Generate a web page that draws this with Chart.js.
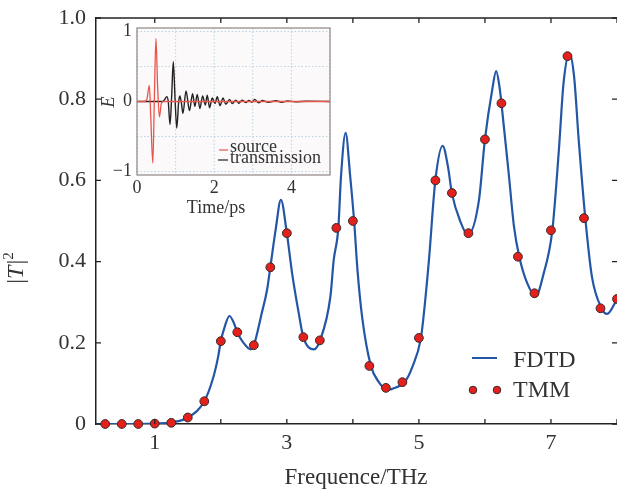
<!doctype html>
<html>
<head>
  <meta charset="utf-8" />
  <title>FDTD / TMM transmission</title>
  <script src="https://cdn.jsdelivr.net/npm/chart.js"></script>
  <style>
    html, body { margin: 0; padding: 0; background: #fff; overflow: hidden; }
    #wrap { position: relative; width: 617px; height: 489px; }
    #main { position: absolute; left: 0; top: 0; }
    #inset { position: absolute; left: 95px; top: 18px; }
  </style>
</head>
<body>
  <div id="wrap">
    <canvas id="main" width="617" height="489"></canvas>
    <canvas id="inset" width="245" height="200"></canvas>
  </div>

  <script>
    const serif = '"Liberation Serif", "Times New Roman", serif';

    // main plot: |T|^2 vs frequency (THz)
    const fdtdFreq = [0.11, 0.5, 0.75, 1.0, 1.25, 1.5, 1.75, 1.89, 1.96, 2.0, 2.06, 2.13, 2.19, 2.25, 2.33, 2.45, 2.5,
      2.62, 2.7, 2.75, 2.83, 2.91, 3.0, 3.08, 3.18, 3.25, 3.41, 3.5, 3.66, 3.71, 3.78, 3.82, 3.89, 3.96, 4.02, 4.07,
      4.14, 4.27, 4.39, 4.53, 4.65, 4.78, 4.9, 5.03, 5.07, 5.15, 5.25, 5.36, 5.44, 5.5, 5.63, 5.74, 5.91, 6.0, 6.11,
      6.17, 6.22, 6.25, 6.36, 6.44, 6.52, 6.64, 6.77, 6.89, 7.02, 7.12, 7.19, 7.28, 7.35, 7.42, 7.52, 7.62, 7.77, 7.85, 8.0];
    const fdtdT = [0, 0, 0, 0.001, 0.004, 0.016, 0.056, 0.117, 0.166, 0.204, 0.24, 0.266, 0.252, 0.226, 0.203, 0.184, 0.194,
      0.273, 0.33, 0.386, 0.478, 0.552, 0.47, 0.371, 0.273, 0.214, 0.184, 0.205, 0.314, 0.404, 0.483, 0.609, 0.717, 0.609, 0.498, 0.379,
      0.264, 0.145, 0.104, 0.084, 0.09, 0.102, 0.14, 0.211, 0.264, 0.4, 0.601, 0.685, 0.634, 0.568, 0.498, 0.466, 0.552, 0.701, 0.823,
      0.869, 0.831, 0.79, 0.617, 0.486, 0.412, 0.347, 0.315, 0.371, 0.476, 0.675, 0.839, 0.913, 0.856, 0.7, 0.507, 0.363, 0.284, 0.271, 0.307];

    const tmmFreq = [0.25, 0.5, 0.75, 1.0, 1.25, 1.5, 1.75, 2.0, 2.25, 2.5, 2.75, 3.0, 3.25, 3.5, 3.75, 4.0,
      4.25, 4.5, 4.75, 5.0, 5.25, 5.5, 5.75, 6.0, 6.25, 6.5, 6.75, 7.0, 7.25, 7.5, 7.75, 8.0];
    const tmmT = [0, 0, 0, 0.001, 0.003, 0.016, 0.056, 0.204, 0.226, 0.194, 0.386, 0.47, 0.214, 0.206, 0.483, 0.5,
      0.143, 0.089, 0.103, 0.212, 0.6, 0.569, 0.47, 0.701, 0.79, 0.412, 0.322, 0.477, 0.906, 0.507, 0.285, 0.308];

    const xTickVals = [1, 2, 3, 4, 5, 6, 7, 8];
    const xTickText = ['1', '', '3', '', '5', '', '7', ''];
    const yTickVals = [0, 0.2, 0.4, 0.6, 0.8, 1.0];
    const yTickText = ['0', '0.2', '0.4', '0.6', '0.8', '1.0'];

    // inset: E field vs time (ps)
    const srcTime = [0, 0.2, 0.25, 0.32, 0.355, 0.41, 0.45, 0.49, 0.535, 0.58, 0.63, 0.68, 5];
    const srcE = [0, 0, 0.02, 0.23, -0.2, -0.88, 0.05, 0.9, 0.2, -0.22, -0.03, 0, 0];

    const trTime = [0, 0.66, 0.72, 0.77, 0.81, 0.855, 0.9, 0.94, 0.985, 1.03, 1.08, 1.11, 1.15, 1.19, 1.27, 1.36, 1.44,
      1.5, 1.56, 1.63, 1.7, 1.77, 1.82, 1.88, 1.95, 2.02, 2.08, 2.15, 2.23, 2.3, 2.4, 2.47, 2.56, 2.64, 2.72, 2.82,
      2.9, 2.97, 3.05, 3.15, 3.25, 3.4, 3.6, 3.75, 3.9, 4.1, 4.4, 5];
    const trE = [0, 0, 0.03, 0.07, 0.0, -0.33, 0.1, 0.57, 0.05, -0.38, 0.0, 0.08, -0.02, -0.17, 0.15, -0.13, 0.11,
      -0.07, 0.1, -0.1, 0.08, -0.05, 0.09, -0.09, 0.05, -0.03, 0.07, -0.06, 0.05, -0.04, 0.03, -0.03, 0.02, -0.025, 0.02, -0.015,
      0.015, -0.01, 0.03, -0.02, 0.015, -0.01, 0.01, -0.01, 0.008, -0.005, 0.004, 0];

    const inXVals = [0, 1, 2, 3, 4, 5];
    const inXText = ['0', '', '2', '', '4', ''];
    const inYVals = [-1, -0.5, 0, 0.5, 1];
    const inYText = ['\u22121', '', '0', '', '1'];

    const pts = (xs, ys) => xs.map((x, i) => ({ x, y: ys[i] }));

    const mainDeco = {
      id: 'mainDeco',
      afterDraw(chart) {
        const { ctx, chartArea: a, scales: { x, y } } = chart;
        ctx.save();
        ctx.strokeStyle = '#222';
        ctx.lineWidth = 1.5;
        ctx.beginPath();
        ctx.moveTo(a.left, a.top); ctx.lineTo(a.right, a.top);
        ctx.stroke();
        ctx.lineWidth = 1.3;
        ctx.beginPath();
        x.ticks.forEach(t => {
          const px = x.getPixelForValue(t.value);
          ctx.moveTo(px, a.bottom); ctx.lineTo(px, a.bottom - 5);
          ctx.moveTo(px, a.top); ctx.lineTo(px, a.top + 5);
        });
        y.ticks.forEach(t => {
          const py = y.getPixelForValue(t.value);
          ctx.moveTo(a.left, py); ctx.lineTo(a.left + 5, py);
          ctx.moveTo(a.right, py); ctx.lineTo(a.right - 5, py);
        });
        ctx.stroke();

        // axis titles
        ctx.fillStyle = '#333';
        ctx.font = '23px ' + serif;
        ctx.textAlign = 'center';
        ctx.textBaseline = 'middle';
        ctx.fillText('Frequence/THz', 356, 478);

        ctx.translate(17, 268);
        ctx.rotate(-Math.PI / 2);
        const fN = '24px ' + serif, fI = 'italic 24px ' + serif, fS = '15px ' + serif;
        ctx.font = fN; const wBar = ctx.measureText('|').width;
        ctx.font = fI; const wT = ctx.measureText('T').width;
        ctx.font = fS; const w2 = ctx.measureText('2').width;
        let cx = -(wBar * 2 + wT + w2 + 1) / 2;
        ctx.textAlign = 'left';
        ctx.font = fN; ctx.fillText('|', cx, 0); cx += wBar;
        ctx.font = fI; ctx.fillText('T', cx, 0); cx += wT + 1;
        ctx.font = fN; ctx.fillText('|', cx, 0); cx += wBar;
        ctx.font = fS; ctx.fillText('2', cx, -8);
        ctx.restore();

        // legend
        ctx.save();
        ctx.strokeStyle = '#2456a6';
        ctx.lineWidth = 2;
        ctx.beginPath(); ctx.moveTo(472, 358); ctx.lineTo(497, 358); ctx.stroke();
        ctx.fillStyle = '#e3201b';
        ctx.strokeStyle = '#3a2a2a';
        ctx.lineWidth = 1;
        [473, 497].forEach(px => {
          ctx.beginPath(); ctx.arc(px, 390, 3.8, 0, Math.PI * 2); ctx.fill(); ctx.stroke();
        });
        ctx.fillStyle = '#333';
        ctx.font = '24px ' + serif;
        ctx.textAlign = 'left';
        ctx.textBaseline = 'middle';
        ctx.fillText('FDTD', 513, 361);
        ctx.fillText('TMM', 513, 391);
        ctx.restore();
      }
    };

    new Chart(document.getElementById('main'), {
      type: 'line',
      data: {
        datasets: [
          {
            label: 'TMM', data: pts(tmmFreq, tmmT), showLine: false, order: 0, clip: false,
            pointRadius: 4.4, pointBackgroundColor: '#e3201b', pointBorderColor: '#3a2a2a', pointBorderWidth: 1
          },
          {
            label: 'FDTD', data: pts(fdtdFreq, fdtdT), order: 1, borderColor: '#2456a6', borderWidth: 2.2,
            pointRadius: 0, cubicInterpolationMode: 'monotone', fill: false
          }
        ]
      },
      options: {
        responsive: false,
        animation: false,
        layout: { autoPadding: false, padding: { top: 18, right: 0, left: 0, bottom: 0 } },
        plugins: { legend: { display: false }, tooltip: { enabled: false } },
        scales: {
          x: {
            type: 'linear', min: 0.11, max: 8.0,
            afterBuildTicks: s => { s.ticks = xTickVals.map(v => ({ value: v })); },
            afterFit: s => { s.height = 65; s.paddingLeft = 0; s.paddingRight = 0; },
            grid: { display: false, drawTicks: false },
            border: { display: true, color: '#222', width: 1.5 },
            ticks: { callback: (v, i) => xTickText[i], font: { family: serif, size: 22 }, color: '#333', padding: 6, maxRotation: 0, autoSkip: false }
          },
          y: {
            type: 'linear', min: 0, max: 1,
            afterBuildTicks: s => { s.ticks = yTickVals.map(v => ({ value: v })); },
            afterFit: s => { s.width = 96; s.paddingTop = 0; s.paddingBottom = 0; },
            grid: { display: false, drawTicks: false },
            border: { display: true, color: '#222', width: 1.5 },
            ticks: { callback: (v, i) => yTickText[i], font: { family: serif, size: 22 }, color: '#333', padding: 10, autoSkip: false }
          }
        }
      },
      plugins: [mainDeco]
    });

    const insetDeco = {
      id: 'insetDeco',
      beforeDatasetsDraw(chart) {
        const { ctx, chartArea: a, scales: { x, y } } = chart;
        ctx.save();
        ctx.fillStyle = '#fbf9f9';
        ctx.fillRect(a.left, a.top, a.right - a.left, a.bottom - a.top);
        ctx.strokeStyle = '#a9cbe0';
        ctx.lineWidth = 0.8;
        ctx.setLineDash([1.5, 2]);
        ctx.beginPath();
        inXVals.forEach(v => {
          const px = x.getPixelForValue(v);
          ctx.moveTo(px, a.top); ctx.lineTo(px, a.bottom);
        });
        inYVals.forEach(v => {
          const py = y.getPixelForValue(v);
          ctx.moveTo(a.left, py); ctx.lineTo(a.right, py);
        });
        ctx.stroke();
        ctx.restore();
      },
      afterDraw(chart) {
        const { ctx, chartArea: a } = chart;
        ctx.save();
        ctx.strokeStyle = '#8f8585';
        ctx.lineWidth = 1.2;
        ctx.strokeRect(a.left, a.top, a.right - a.left, a.bottom - a.top);

        ctx.fillStyle = '#333';
        ctx.font = '18px ' + serif;
        ctx.textAlign = 'center';
        ctx.textBaseline = 'middle';
        ctx.fillText('Time/ps', 121, 190);

        ctx.translate(14, 84);
        ctx.rotate(-Math.PI / 2);
        ctx.font = 'italic 18px ' + serif;
        ctx.fillText('E', 0, 0);
        ctx.restore();

        // legend
        ctx.save();
        ctx.lineWidth = 1.2;
        ctx.strokeStyle = '#e8554d';
        ctx.beginPath(); ctx.moveTo(124, 132); ctx.lineTo(133, 132); ctx.stroke();
        ctx.strokeStyle = '#222';
        ctx.beginPath(); ctx.moveTo(123, 142); ctx.lineTo(133, 142); ctx.stroke();
        ctx.fillStyle = '#333';
        ctx.font = '18px ' + serif;
        ctx.textAlign = 'left';
        ctx.textBaseline = 'middle';
        ctx.fillText('source', 135, 129);
        ctx.fillText('transmission', 135, 140);
        ctx.restore();
      }
    };

    new Chart(document.getElementById('inset'), {
      type: 'line',
      data: {
        datasets: [
          {
            label: 'source', data: pts(srcTime, srcE), order: 0, borderColor: '#e8554d', borderWidth: 1.3,
            pointRadius: 0, cubicInterpolationMode: 'monotone'
          },
          {
            label: 'transmission', data: pts(trTime, trE), order: 1, borderColor: '#222', borderWidth: 1.4,
            pointRadius: 0, cubicInterpolationMode: 'monotone'
          }
        ]
      },
      options: {
        responsive: false,
        animation: false,
        layout: { autoPadding: false, padding: { top: 10, right: 10, left: 0, bottom: 0 } },
        plugins: { legend: { display: false }, tooltip: { enabled: false } },
        scales: {
          x: {
            type: 'linear', min: 0, max: 5,
            afterBuildTicks: s => { s.ticks = inXVals.map(v => ({ value: v })); },
            afterFit: s => { s.height = 43; s.paddingLeft = 0; s.paddingRight = 0; },
            grid: { display: false, drawTicks: false },
            border: { display: false },
            ticks: { callback: (v, i) => inXText[i], font: { family: serif, size: 18 }, color: '#333', padding: 2, maxRotation: 0, autoSkip: false }
          },
          y: {
            type: 'linear', min: -1.05, max: 1.05,
            afterBuildTicks: s => { s.ticks = inYVals.map(v => ({ value: v })); },
            afterFit: s => { s.width = 42; s.paddingTop = 0; s.paddingBottom = 0; },
            grid: { display: false, drawTicks: false },
            border: { display: false },
            ticks: { callback: (v, i) => inYText[i], font: { family: serif, size: 18 }, color: '#333', padding: 5, autoSkip: false }
          }
        }
      },
      plugins: [insetDeco]
    });
  </script>
</body>
</html>
